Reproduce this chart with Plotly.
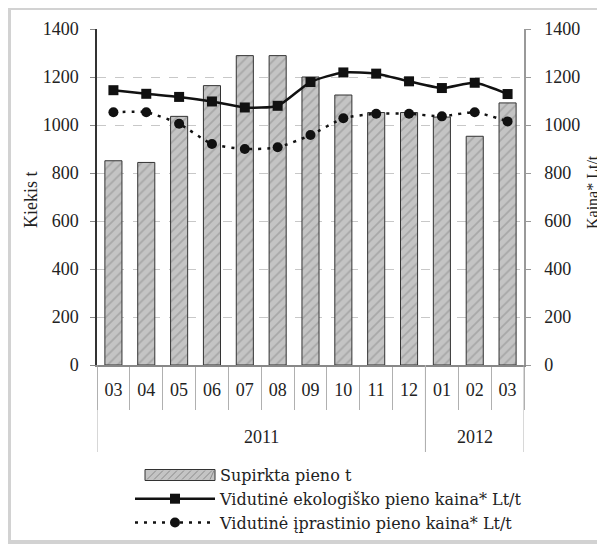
import plotly.graph_objects as go

years = ["2011"] * 10 + ["2012"] * 3
months = ["03", "04", "05", "06", "07", "08", "09", "10", "11", "12", "01", "02", "03"]
supirkta = [851, 844, 1036, 1164, 1289, 1289, 1200, 1125, 1052, 1052, 1033, 953, 1092]
ekologisko = [1145, 1130, 1117, 1098, 1073, 1080, 1179, 1219, 1214, 1182, 1154, 1176, 1129]
iprastinio = [1053, 1053, 1005, 921, 900, 907, 958, 1028, 1047, 1047, 1036, 1053, 1015]
y_ticks = [0, 200, 400, 600, 800, 1000, 1200, 1400]

cats = [f"{y}-{m}" for y, m in zip(years, months)]

FONT = "Liberation Serif"
LEGFONT = "DejaVu Serif"
TXT = "#222222"
OFF = 8  # page body margin
W, H = 605 - OFF, 545 - OFF
# plot area in page pixels
PL, PR, PT, PB = 97, 524, 29, 365
L, T = PL - OFF, PT - OFF
R = W - (PR - OFF)
B = H - (PB - OFF)
pw = W - L - R
ph = H - T - B

def px(x):  # page px -> paper
    return (x - OFF - L) / pw

def py(y):
    return (H - B - (y - OFF)) / ph

fig = go.Figure()
fig.add_trace(go.Scatter(
    x=[None], y=[None], name="Supirkta pieno t", mode="lines",
    line=dict(color="rgba(0,0,0,0)", width=1), hoverinfo="skip",
))
fig.add_trace(go.Bar(
    x=cats, y=supirkta, name="Supirkta pieno t", showlegend=False,
    marker=dict(color="#c4c4c4", line=dict(color="#333333", width=1),
                pattern=dict(shape="/", fgcolor="#8a8a8a", size=7, solidity=0.25)),
    yaxis="y",
))
fig.add_trace(go.Scatter(
    x=cats, y=ekologisko, name="Vidutinė ekologiško pieno kaina* Lt/t",
    mode="lines+markers", line=dict(color="#111111", width=2.5, shape="spline", smoothing=0.6),
    marker=dict(symbol="square", size=10, color="#111111"), yaxis="y2",
))
fig.add_trace(go.Scatter(
    x=cats, y=iprastinio, name="Vidutinė įprastinio pieno kaina* Lt/t",
    mode="lines+markers", line=dict(color="#111111", width=2.5, dash="3px,6px", shape="spline", smoothing=0.6),
    marker=dict(symbol="circle", size=10, color="#111111"), yaxis="y2",
))

annotations = []
shapes = []
groups = []
for i, y in enumerate(years):
    if not groups or groups[-1][0] != y:
        groups.append([y, i, i])
    else:
        groups[-1][2] = i
for y, i0, i1 in groups:
    annotations.append(dict(x=(i0 + i1) / 2, xref="x", y=py(437), yref="paper",
                            text=y, showarrow=False, xanchor="center", yanchor="middle",
                            font=dict(family=FONT, size=18, color=TXT)))
    for b in (i0 - 0.5, i1 + 0.5):
        shapes.append(dict(type="line", xref="x", yref="paper", x0=b, x1=b,
                           y0=0, y1=py(452), line=dict(color="#b0b0b0", width=1)))

annotations.append(dict(x=px(31), y=py(200), xref="paper", yref="paper", text="Kiekis t",
                        textangle=-90, showarrow=False, xanchor="center", yanchor="middle",
                        font=dict(family=FONT, size=18, color=TXT)))
annotations.append(dict(x=px(592), y=py(192), xref="paper", yref="paper", text="Kaina* Lt/t",
                        textangle=-90, showarrow=False, xanchor="center", yanchor="middle",
                        font=dict(family=FONT, size=16, color=TXT)))

# legend swatch for the bar series
sx0, sx1, sy0, sy1 = 145, 215, 469.5, 480.5
shapes.append(dict(type="rect", xref="paper", yref="paper",
                   x0=px(sx0), x1=px(sx1), y0=py(sy1), y1=py(sy0),
                   line=dict(color="#333333", width=1), fillcolor="#c4c4c4"))
k = sx0 + 2
while k < sx1 - 2:
    shapes.append(dict(type="line", xref="paper", yref="paper",
                       x0=px(k), x1=px(min(k + 9, sx1 - 1)), y0=py(sy1 - 1), y1=py(sy0 + 1),
                       line=dict(color="#8a8a8a", width=1)))
    k += 7

# outer frame
shapes.append(dict(type="rect", xref="paper", yref="paper",
                   x0=px(9), x1=px(620), y0=py(542), y1=py(8),
                   line=dict(color="#d2d2d2", width=4), fillcolor="rgba(0,0,0,0)", layer="below"))

fig.update_layout(
    width=W, height=H,
    margin=dict(l=L, r=R, t=T, b=B, pad=0, autoexpand=False),
    paper_bgcolor="white", plot_bgcolor="white",
    font=dict(family=FONT, size=17, color=TXT),
    bargap=0.48,
    showlegend=True,
    legend=dict(x=(130 - OFF) / W, y=1 - (458 - OFF) / H, xref="container", yref="container",
                xanchor="left", yanchor="top",
                orientation="v", itemwidth=80, tracegroupgap=0,
                font=dict(family=LEGFONT, size=16, color=TXT),
                bgcolor="rgba(0,0,0,0)", traceorder="normal"),
    xaxis=dict(
        type="category", showline=True, linecolor="#888888", linewidth=1.5,
        tickmode="array", tickvals=cats, ticktext=months,
        ticks="outside", tickson="boundaries", ticklen=43, tickcolor="#b0b0b0", tickwidth=1,
        ticklabelstandoff=8, automargin=False,
        tickfont=dict(family=FONT, size=18, color=TXT),
        showgrid=False, zeroline=False, range=[-0.5, len(cats) - 0.5],
    ),
    yaxis=dict(
        range=[0, 1400], tickvals=y_ticks, showline=True, linecolor="#333333", linewidth=1.5,
        ticks="outside", ticklen=5, tickcolor="#888888",
        showgrid=True, gridcolor="#c8c8c8", griddash="dash", gridwidth=1,
        zeroline=False, ticklabelstandoff=8, automargin=False,
        tickfont=dict(family=FONT, size=18, color=TXT),
    ),
    yaxis2=dict(
        range=[0, 1400], tickvals=y_ticks, overlaying="y", side="right",
        showline=True, linecolor="#999999", linewidth=1.5,
        ticks="outside", ticklen=5, tickcolor="#999999",
        showgrid=False, zeroline=False, ticklabelstandoff=10, automargin=False,
        tickfont=dict(family=FONT, size=18, color=TXT),
    ),
    annotations=annotations,
    shapes=shapes,
)

fig.write_html("out.html")
